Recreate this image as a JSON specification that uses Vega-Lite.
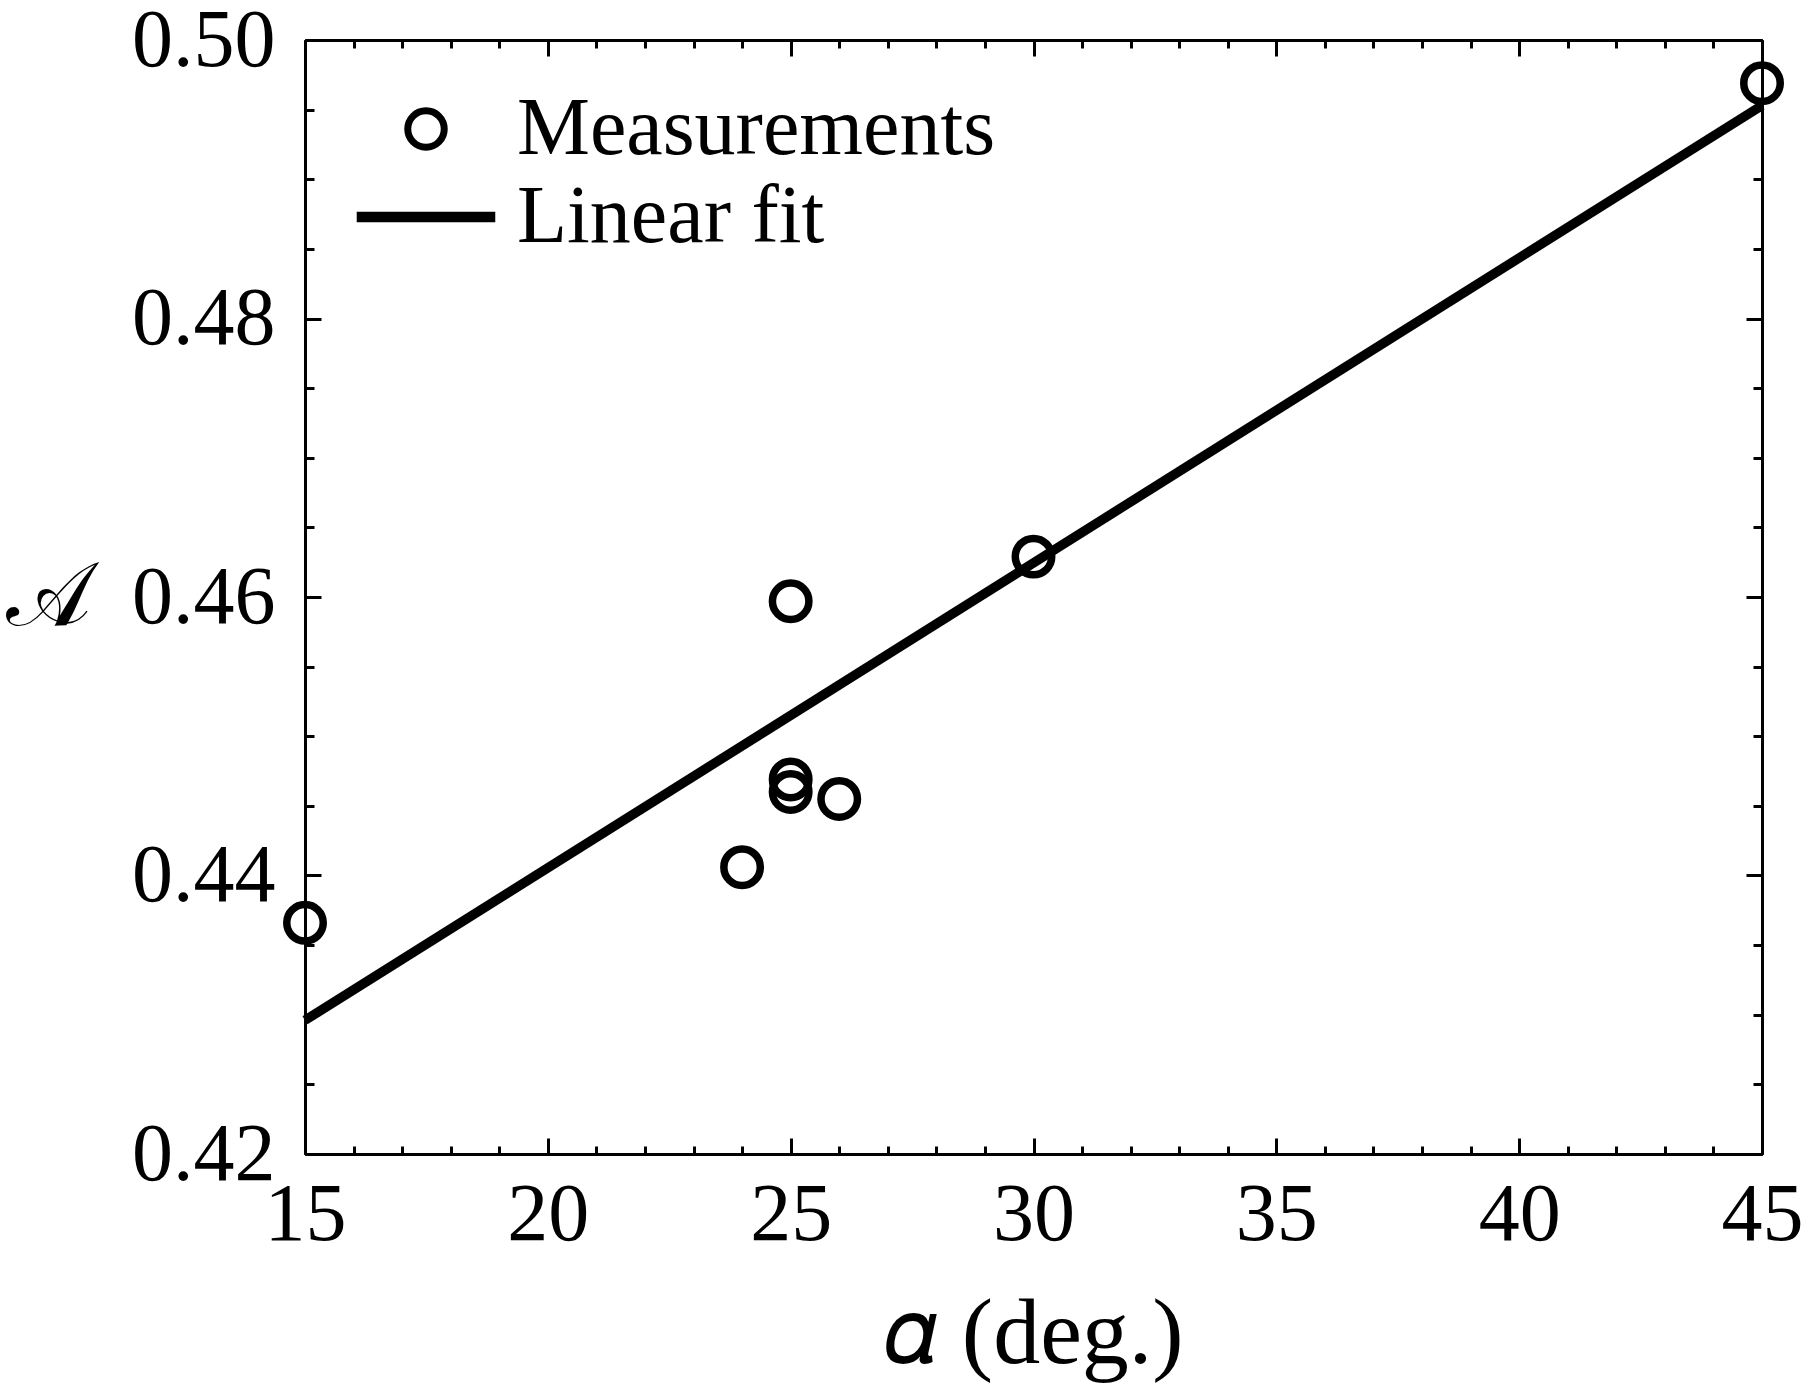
{
  "$schema": "https://vega.github.io/schema/vega-lite/v6.json",
  "width": 1457,
  "height": 1114,
  "autosize": {"type": "none"},
  "padding": {"left": 305, "top": 40, "right": 41, "bottom": 239},
  "background": "white",
  "config": {
    "view": {"stroke": null},
    "axis": {
      "labelFont": "Liberation Serif",
      "titleFont": "'Liberation Serif', 'DejaVu Serif', serif",
      "labelColor": "black",
      "titleColor": "black",
      "domainColor": "black",
      "tickColor": "black",
      "domainWidth": 3,
      "tickWidth": 3,
      "grid": false,
      "labelFlush": false,
      "labelOverlap": false,
      "titleFontWeight": "normal",
      "offset": 0
    }
  },
  "datasets": {
    "measurements": [
      {"alpha": 15, "A": 0.4366, "series": "Measurements"},
      {"alpha": 24, "A": 0.4406, "series": "Measurements"},
      {"alpha": 25, "A": 0.4597, "series": "Measurements"},
      {"alpha": 25, "A": 0.4469, "series": "Measurements"},
      {"alpha": 25, "A": 0.4460, "series": "Measurements"},
      {"alpha": 26, "A": 0.4455, "series": "Measurements"},
      {"alpha": 30, "A": 0.4629, "series": "Measurements"},
      {"alpha": 45, "A": 0.4969, "series": "Measurements"}
    ],
    "fit": [
      {"alpha": 15, "A": 0.4296, "series": "Linear fit"},
      {"alpha": 45, "A": 0.4953, "series": "Linear fit"}
    ]
  },
  "resolve": {
    "scale": {"x": "shared", "y": "shared"},
    "axis": {"x": "independent", "y": "independent"}
  },
  "layer": [
    {
      "data": {"name": "fit"},
      "mark": {"type": "line", "color": "black", "strokeWidth": 9.5, "strokeCap": "butt", "clip": false},
      "encoding": {
        "x": {"field": "alpha", "type": "quantitative",
              "scale": {"domain": [15, 45], "nice": false, "zero": false},
              "axis": {"orient": "bottom", "values": [15, 20, 25, 30, 35, 40, 45], "ticks": false, "domain": true,
                       "labels": true, "labelFontSize": 82, "labelPadding": 85, "labelBaseline": "alphabetic",
                       "title": "𝛼 (deg.)", "titleFontSize": 94, "titleBaseline": "alphabetic", "titleY": 208}},
        "y": {"field": "A", "type": "quantitative",
              "scale": {"domain": [0.42, 0.5], "nice": false, "zero": false},
              "axis": {"orient": "left", "values": [0.42, 0.44, 0.46, 0.48, 0.5], "format": ".2f", "ticks": false, "domain": true,
                       "labels": true, "labelFontSize": 82, "labelPadding": 30,
                       "title": "𝒜", "titleFontSize": 90, "titleAngle": 0, "titleAlign": "center", "titleBaseline": "middle",
                       "titleX": -257, "titleY": 557}}
      }
    },
    {
      "data": {"name": "measurements"},
      "mark": {"type": "point", "filled": false, "size": 1330, "strokeWidth": 7.5, "color": "black", "opacity": 1, "clip": false},
      "encoding": {
        "x": {"field": "alpha", "type": "quantitative",
              "axis": {"orient": "bottom", "values": [15, 20, 25, 30, 35, 40, 45], "labels": false, "domain": false, "ticks": true, "tickSize": -16, "title": null}},
        "y": {"field": "A", "type": "quantitative",
              "axis": {"orient": "left", "values": [0.42, 0.44, 0.46, 0.48, 0.5], "labels": false, "domain": false, "ticks": true, "tickSize": -16, "title": null}},
        "shape": {"field": "series", "type": "nominal",
                  "scale": {"domain": ["Measurements", "Linear fit"], "range": ["circle", "M-3.607,-0.096H3.607V0.096H-3.607Z"]},
                  "legend": {"orient": "none", "legendX": 80, "legendY": 48, "title": null, "padding": 0,
                             "labelFont": "Liberation Serif", "labelFontSize": 82, "labelColor": "black", "labelLimit": 0,
                             "symbolSize": 1330, "symbolStrokeWidth": 7, "symbolStrokeColor": "black", "symbolFillColor": "transparent",
                             "labelOffset": 50, "rowPadding": 6}}
      }
    },
    {
      "data": {"name": "measurements"},
      "mark": {"type": "point", "opacity": 0},
      "encoding": {
        "x": {"field": "alpha", "type": "quantitative",
              "axis": {"orient": "bottom", "values": [15,16,17,18,19,20,21,22,23,24,25,26,27,28,29,30,31,32,33,34,35,36,37,38,39,40,41,42,43,44,45], "labels": false, "domain": false, "ticks": true, "tickSize": -8, "title": null}},
        "y": {"field": "A", "type": "quantitative",
              "axis": {"orient": "left", "values": [0.42,0.425,0.43,0.435,0.44,0.445,0.45,0.455,0.46,0.465,0.47,0.475,0.48,0.485,0.49,0.495,0.5], "labels": false, "domain": false, "ticks": true, "tickSize": -9, "title": null}}
      }
    },
    {
      "data": {"name": "measurements"},
      "mark": {"type": "point", "opacity": 0},
      "encoding": {
        "x": {"field": "alpha", "type": "quantitative",
              "axis": {"orient": "top", "values": [15, 20, 25, 30, 35, 40, 45], "labels": false, "domain": true, "ticks": true, "tickSize": -16, "title": null}},
        "y": {"field": "A", "type": "quantitative",
              "axis": {"orient": "right", "values": [0.42, 0.44, 0.46, 0.48, 0.5], "labels": false, "domain": true, "ticks": true, "tickSize": -16, "title": null}}
      }
    },
    {
      "data": {"name": "measurements"},
      "mark": {"type": "point", "opacity": 0},
      "encoding": {
        "x": {"field": "alpha", "type": "quantitative",
              "axis": {"orient": "top", "values": [15,16,17,18,19,20,21,22,23,24,25,26,27,28,29,30,31,32,33,34,35,36,37,38,39,40,41,42,43,44,45], "labels": false, "domain": false, "ticks": true, "tickSize": -8, "title": null}},
        "y": {"field": "A", "type": "quantitative",
              "axis": {"orient": "right", "values": [0.42,0.425,0.43,0.435,0.44,0.445,0.45,0.455,0.46,0.465,0.47,0.475,0.48,0.485,0.49,0.495,0.5], "labels": false, "domain": false, "ticks": true, "tickSize": -9, "title": null}}
      }
    }
  ]
}
